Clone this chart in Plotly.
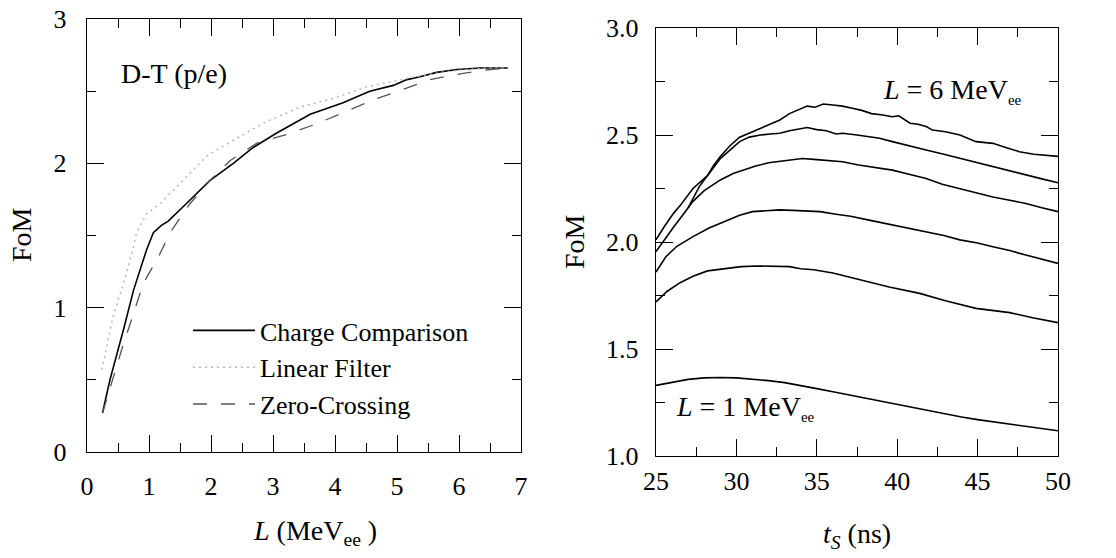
import plotly.graph_objects as go

# ---------------- Left panel data: FoM vs L (MeVee), D-T (p/e) ----------------
cc_L = [0.25, 0.37, 0.59, 0.75, 0.96, 1.07, 1.2, 1.31, 1.6, 1.98, 2.36, 2.68, 3.06, 3.44, 3.6,
        4.13, 4.56, 4.94, 5.16, 5.37, 5.64, 5.97, 6.34, 6.79]
cc_fom = [0.27, 0.5, 0.85, 1.12, 1.40, 1.52, 1.57, 1.6, 1.72, 1.88, 2.0, 2.11, 2.21, 2.30, 2.34,
          2.42, 2.50, 2.54, 2.58, 2.60, 2.63, 2.65, 2.66, 2.66]

lf_L = [0.24, 0.42, 0.59, 0.72, 0.80, 0.96, 1.18, 1.55, 1.93, 2.36, 2.9, 3.44, 3.97, 4.51, 4.94,
        5.3, 5.7, 6.1, 6.5, 6.79]
lf_fom = [0.57, 0.94, 1.17, 1.37, 1.52, 1.65, 1.72, 1.88, 2.05, 2.16, 2.29, 2.39, 2.45, 2.53, 2.57,
          2.60, 2.63, 2.65, 2.66, 2.66]

zc_L = [0.25, 0.40, 0.56, 0.75, 0.91, 1.15, 1.34, 1.66, 1.98, 2.31, 2.74, 3.22, 3.68, 4.13, 4.62,
        5.08, 5.53, 6.02, 6.5, 6.79]
zc_fom = [0.27, 0.49, 0.71, 0.96, 1.17, 1.35, 1.52, 1.72, 1.88, 2.02, 2.14, 2.20, 2.27, 2.35, 2.44,
          2.51, 2.58, 2.62, 2.65, 2.66]

# ---------------- Right panel data: FoM vs t_S (ns) for L = 1..6 MeVee ----------------
ts_L1 = [25, 26, 27, 28, 29, 30, 31, 32, 33, 34, 35, 36, 37, 38, 39, 40, 41, 42, 43, 44, 45, 46,
         47, 48, 49, 50]
fom_L1 = [1.33, 1.345, 1.358, 1.365, 1.367, 1.365, 1.36, 1.352, 1.343, 1.33, 1.315, 1.30, 1.285,
          1.27, 1.255, 1.24, 1.225, 1.21, 1.195, 1.182, 1.17, 1.16, 1.15, 1.14, 1.13, 1.118]

ts_L2 = [25, 25.7, 26.5, 27.3, 28.2, 29.2, 30.3, 31.3, 32.3, 33.3, 34.0, 34.8, 36.0, 37.7, 39.5,
         41.4, 43.0, 44.9, 46.0, 47.0, 48.5, 50]
fom_L2 = [1.72, 1.77, 1.81, 1.84, 1.865, 1.875, 1.885, 1.888, 1.888, 1.885, 1.875, 1.87, 1.855,
          1.822, 1.79, 1.76, 1.725, 1.69, 1.68, 1.67, 1.645, 1.623]

ts_L3 = [25, 25.6, 26.3, 27.3, 28.3, 29.4, 30.2, 31, 31.9, 32.7, 33.5, 34.3, 35.2, 36.2, 37.1,
         38.4, 39.7, 40.8, 41.8, 42.9, 43.9, 45, 45.95, 47, 48, 49, 50]
fom_L3 = [1.86, 1.93, 1.98, 2.025, 2.065, 2.10, 2.125, 2.142, 2.148, 2.15, 2.148, 2.145, 2.142,
          2.13, 2.12, 2.10, 2.08, 2.065, 2.048, 2.03, 2.01, 1.995, 1.978, 1.96, 1.939, 1.92, 1.90]

ts_L4 = [25, 25.5, 26.1, 26.7, 27.3, 28.0, 29.0, 29.8, 30.4, 31.2, 32.0, 32.5, 33.3, 34.1, 35.0,
         36.0, 36.6, 37.6, 38.6, 39.7, 40.8, 41.8, 42.8, 43.9, 45.0, 45.95, 47, 48, 49, 50]
fom_L4 = [1.955, 2.01, 2.07, 2.13, 2.19, 2.24, 2.29, 2.32, 2.336, 2.355, 2.37, 2.375, 2.38, 2.39,
          2.385, 2.38, 2.375, 2.36, 2.35, 2.336, 2.315, 2.297, 2.27, 2.25, 2.23, 2.21, 2.195,
          2.18, 2.16, 2.142]

ts_L5 = [25, 25.5, 26.1, 26.5, 27.3, 28.2, 29.0, 29.6, 30.2, 30.8, 31.5, 32.1, 32.7, 33.3, 34.0,
         34.4, 35.0, 35.6, 36.2, 36.6, 37.5, 38.9, 39.7, 40.8, 41.8, 42.9, 43.9, 45.0, 45.95, 47,
         48, 49, 50]
fom_L5 = [2.01, 2.07, 2.135, 2.17, 2.25, 2.31, 2.39, 2.43, 2.469, 2.49, 2.50, 2.505, 2.508, 2.52,
          2.53, 2.535, 2.525, 2.52, 2.505, 2.508, 2.50, 2.485, 2.469, 2.45, 2.43, 2.41, 2.391,
          2.37, 2.352, 2.33, 2.313, 2.295, 2.277]

ts_L6 = [27.0, 27.7, 28.2, 28.6, 29.0, 29.6, 30.2, 30.8, 31.5, 32.1, 32.7, 33.3, 33.9, 34.4, 34.9,
         35.4, 36.0, 36.6, 37.2, 37.8, 38.4, 39.0, 39.7, 40.1, 40.8, 41.3, 41.8, 42.2, 43.0, 43.9,
         44.9, 45.95, 46.8, 47.6, 48.5, 49.3, 50]
fom_L6 = [2.16, 2.26, 2.31, 2.36, 2.40, 2.45, 2.49, 2.51, 2.53, 2.55, 2.57, 2.60, 2.62, 2.635,
          2.63, 2.645, 2.64, 2.635, 2.625, 2.615, 2.60, 2.595, 2.585, 2.59, 2.555, 2.55, 2.54,
          2.523, 2.515, 2.50, 2.469, 2.461, 2.44, 2.422, 2.41, 2.405, 2.40]

left_xticks = [0, 1, 2, 3, 4, 5, 6, 7]
left_yticks = [0, 1, 2, 3]
right_xticks = [25, 30, 35, 40, 45, 50]
right_yticks = [1.0, 1.5, 2.0, 2.5, 3.0]
right_yticklabels = ["1.0", "1.5", "2.0", "2.5", "3.0"]

FONT = "Liberation Serif, Times New Roman, serif"
W, H = 1116, 558

fig = go.Figure()

fig.add_trace(go.Scatter(x=cc_L, y=cc_fom, mode="lines", name="Charge Comparison",
                         line=dict(color="black", width=1.6), xaxis="x", yaxis="y"))
fig.add_trace(go.Scatter(x=lf_L, y=lf_fom, mode="lines", name="Linear Filter",
                         line=dict(color="#b8b8b8", width=1.5, dash="2px,4px"), xaxis="x", yaxis="y"))
fig.add_trace(go.Scatter(x=zc_L, y=zc_fom, mode="lines", name="Zero-Crossing",
                         line=dict(color="#555555", width=1.3, dash="14px,14px"), xaxis="x", yaxis="y"))

for ts, fom in [(ts_L1, fom_L1), (ts_L2, fom_L2), (ts_L3, fom_L3),
                (ts_L4, fom_L4), (ts_L5, fom_L5), (ts_L6, fom_L6)]:
    fig.add_trace(go.Scatter(x=ts, y=fom, mode="lines", showlegend=False,
                             line=dict(color="black", width=1.6), xaxis="x2", yaxis="y2"))

axis_common = dict(showline=True, linecolor="black", linewidth=1.4, mirror="ticks",
                   ticks="inside", ticklen=17, tickwidth=1.3, tickcolor="black",
                   showgrid=False, zeroline=False, automargin=False,
                   tickfont=dict(family=FONT, size=26, color="black"))

fig.update_layout(
    template="none",
    width=W, height=H, margin=dict(l=0, r=0, t=0, b=0, pad=0),
    paper_bgcolor="white", plot_bgcolor="white",
    font=dict(family=FONT, color="black"),
    xaxis=dict(domain=[87 / W, 521 / W], range=[0, 7], tickvals=left_xticks,
               minor=dict(ticks="inside", ticklen=9, dtick=0.5, tickcolor="black", tickwidth=1.3),
               ticklabelstandoff=11, anchor="y", **axis_common),
    yaxis=dict(domain=[1 - 452 / H, 1 - 19 / H], range=[0, 3], tickvals=left_yticks,
               minor=dict(ticks="inside", ticklen=9, dtick=0.5, tickcolor="black", tickwidth=1.3),
               ticklabelstandoff=14, anchor="x", **axis_common),
    xaxis2=dict(domain=[656 / W, 1058 / W], range=[25, 50], tickvals=right_xticks,
                minor=dict(ticks="inside", ticklen=9, dtick=2.5, tickcolor="black", tickwidth=1.3),
                ticklabelstandoff=2, anchor="y2", **axis_common),
    yaxis2=dict(domain=[1 - 456 / H, 1 - 28 / H], range=[1, 3], tickvals=right_yticks,
                ticktext=right_yticklabels,
                minor=dict(ticks="inside", ticklen=9, dtick=0.25, tickcolor="black", tickwidth=1.3),
                ticklabelstandoff=11, anchor="x2", **axis_common),
    legend=dict(x=188 / W, y=1 - 307 / H, xanchor="left", yanchor="top",
                bgcolor="rgba(0,0,0,0)", borderwidth=0, itemwidth=62,
                font=dict(family=FONT, size=26, color="black"), tracegroupgap=0),
    showlegend=True,
)

ann_font = dict(family=FONT, size=28, color="black")
annotations = [
    dict(text="FoM", x=22 / W, y=1 - 235 / H, xref="paper", yref="paper", textangle=-90,
         showarrow=False, font=ann_font, xanchor="center", yanchor="middle"),
    dict(text="FoM", x=574 / W, y=1 - 242 / H, xref="paper", yref="paper", textangle=-90,
         showarrow=False, font=ann_font, xanchor="center", yanchor="middle"),
    dict(text="<i>L</i> (MeV<sub>ee</sub> )", x=315 / W, y=1 - 532 / H, xref="paper", yref="paper",
         showarrow=False, font=ann_font, xanchor="center", yanchor="middle"),
    dict(text="<i>t<sub>S</sub></i> (ns)", x=857 / W, y=1 - 535 / H, xref="paper", yref="paper",
         showarrow=False, font=ann_font, xanchor="center", yanchor="middle"),
    dict(text="D-T (p/e)", x=0.52, y=2.62, xref="x", yref="y",
         showarrow=False, font=ann_font, xanchor="left", yanchor="middle"),
    dict(text="<i>L</i> = 6 MeV<sub><span style='font-size:15px'>ee</span></sub>", x=39.0, y=2.705,
         xref="x2", yref="y2", showarrow=False, font=ann_font, xanchor="left", yanchor="middle"),
    dict(text="<i>L</i> = 1 MeV<sub><span style='font-size:15px'>ee</span></sub>", x=26.1, y=1.225,
         xref="x2", yref="y2", showarrow=False, font=ann_font, xanchor="left", yanchor="middle"),
]
fig.update_layout(annotations=annotations)

fig.write_html("out.html")
